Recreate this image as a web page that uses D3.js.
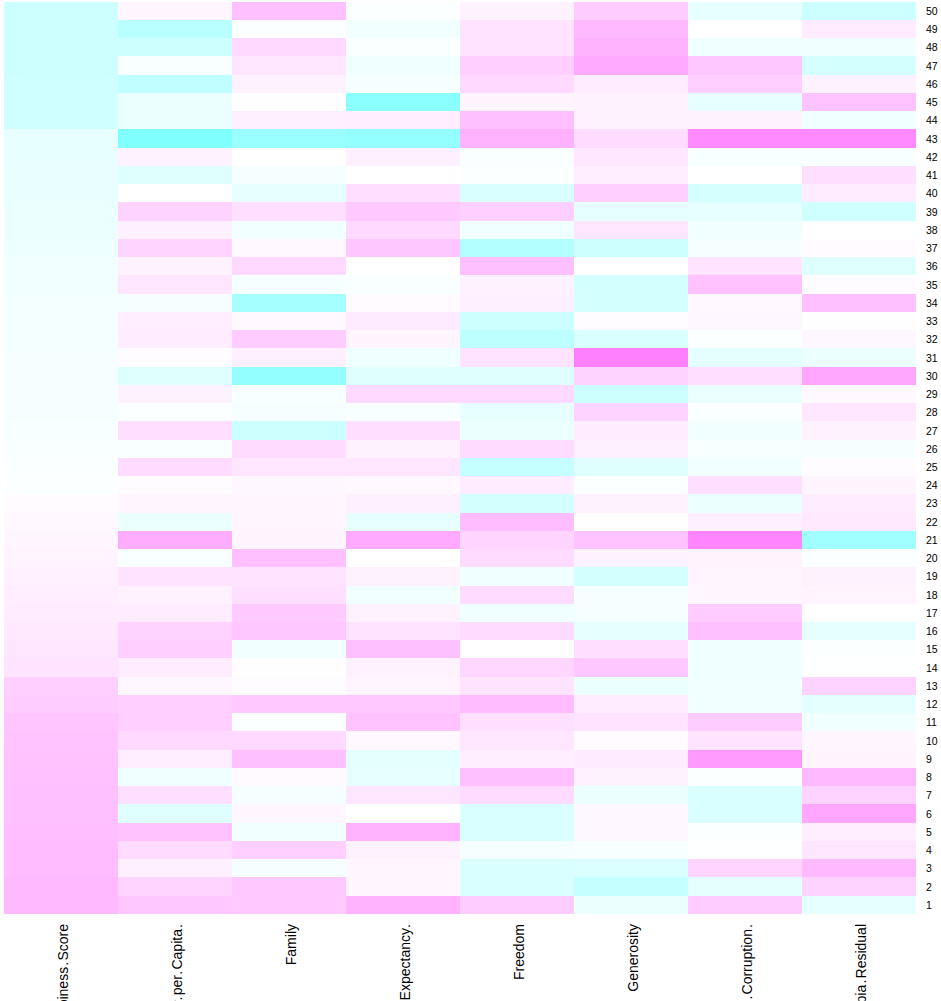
<!DOCTYPE html>
<html><head><meta charset="utf-8">
<style>html,body{margin:0;padding:0;background:#fff;overflow:hidden;width:941px;height:1001px}svg{display:block}text{font-family:"Liberation Sans",Arial,sans-serif;fill:#000}</style>
<script src="https://cdn.jsdelivr.net/npm/d3@7"></script>
</head><body><svg id="c" width="941" height="1001"></svg>
<script>
const columns=["Happiness.Score","Economy..GDP.per.Capita.","Family","Health..Life.Expectancy.","Freedom","Generosity","Trust..Government.Corruption.","Dystopia.Residual"];
const rowLabels=[50,49,48,47,46,45,44,43,42,41,40,39,38,37,36,35,34,33,32,31,30,29,28,27,26,25,24,23,22,21,20,19,18,17,16,15,14,13,12,11,10,9,8,7,6,5,4,3,2,1];
// values listed top row (50) to bottom row (1)
const happiness=[-.4,-.4,-.39,-.39,-.38,-.38,-.38,-.19,-.18,-.17,-.17,-.16,-.15,-.14,-.1,-.1,-.09,-.09,-.09,-.08,-.08,-.07,-.07,-.06,-.05,-.04,-.02,.03,.05,.07,.09,.11,.13,.15,.17,.2,.22,.38,.4,.46,.47,.48,.49,.5,.5,.51,.52,.53,.54,.55];
const economy=[.07,-.55,-.4,-.05,-.5,-.15,-.15,-1,.1,-.25,0,.35,.12,.33,.1,.2,-.08,.13,.15,.02,-.25,.1,-.02,.25,-.05,.28,.02,.07,-.15,.65,-.05,.22,.1,.15,.35,.38,.15,.06,.38,.38,.3,.13,-.12,.25,-.25,.48,.28,.12,.33,.45];
const family=[.5,-.02,.3,.2,.1,.01,.12,-.8,0,-.07,-.18,.25,-.1,.05,.3,-.07,-.7,.05,.4,.12,-.85,-.06,-.07,-.4,.28,.2,.06,.07,.07,.08,.5,.22,.25,.42,.45,-.1,.01,.02,.42,-.02,.3,.5,.04,-.08,.07,-.1,.37,-.08,.43,.42];
const health=[-.03,-.1,-.04,-.12,-.08,-.92,.13,-.85,.12,0,.25,.42,.3,.45,0,-.05,.03,.16,.08,-.12,-.25,.3,-.06,.25,.1,.2,.05,.12,-.18,.67,0,.1,-.1,.1,.22,.5,.1,.09,.43,.47,.05,-.22,-.18,.2,0,.6,.1,.07,.07,.6];
const freedom=[.1,.22,.22,.38,.3,.08,.5,.6,-.05,-.02,-.3,.38,-.12,-.6,.5,.1,.12,-.4,-.52,.22,-.25,.3,-.18,-.15,.28,-.45,.15,-.35,.52,.33,.28,-.12,.28,-.12,.28,0,.32,.22,.52,.25,.2,.13,.5,.28,-.3,-.3,-.08,-.3,-.3,.4];
const generosity=[.4,.55,.6,.67,.15,.1,.1,.28,.18,.13,.38,-.2,.2,-.4,0,-.35,-.35,.02,-.3,1,.35,-.4,.35,.15,.12,-.25,-.02,.1,.01,.47,.1,-.35,-.07,-.07,-.2,.25,.45,-.15,.15,.22,.03,.16,.1,-.15,.06,.06,-.06,-.28,-.45,-.15];
const corruption=[-.18,0,-.12,.45,.38,-.18,.1,.92,-.06,0,-.33,-.18,-.1,-.08,.22,.48,.05,.06,-.02,-.22,.25,-.15,-.04,-.1,-.06,-.1,.25,-.15,.12,.95,.08,.09,.07,.4,.5,-.12,-.12,-.1,-.1,.4,.22,.8,-.02,-.3,-.3,-.02,-.01,.33,-.22,.4];
const residual=[-.4,.14,-.12,-.35,.1,.47,-.12,.92,-.06,.25,.14,-.38,0,.03,-.25,.02,.5,.01,.06,-.15,.7,.05,.18,.1,-.07,.02,.08,.15,.17,-.75,-.03,.1,.09,0,-.2,-.03,-.01,.35,-.22,-.12,.07,.08,.55,.35,.7,.13,.2,.55,.35,-.2];
const series=[happiness,economy,family,health,freedom,generosity,corruption,residual];

const svg=d3.select("#c");
const x=d3.scaleBand().domain(columns).range([4,916]);
const y=d3.scaleBand().domain(rowLabels).range([1.7,913.9]);
const color=d3.scaleLinear().domain([-1,0,1]).range(["#80FFFF","#FFFFFF","#FF80FF"]);
const cells=series.flatMap((s,i)=>s.map((v,j)=>({col:columns[i],row:rowLabels[j],v})));
svg.append("g").attr("shape-rendering","crispEdges").selectAll("rect").data(cells).join("rect")
 .attr("x",d=>x(d.col)).attr("y",d=>y(d.row)).attr("width",x.bandwidth()).attr("height",y.bandwidth()+.5)
 .attr("fill",d=>color(d.v));
const yAxis=svg.append("g").attr("transform","translate(916,0.7)").call(d3.axisRight(y).tickSize(0).tickPadding(10));
yAxis.select(".domain").remove();
yAxis.selectAll("text").style("font-family",'"Liberation Sans",Arial,sans-serif').style("font-size","10.5px");
const xAxis=svg.append("g").attr("transform","translate(2,914)").call(d3.axisBottom(x).tickSize(0));
xAxis.select(".domain").remove();
xAxis.selectAll("text").attr("transform","rotate(-90)").attr("text-anchor","end").attr("dy","0.36em").attr("y",0).attr("x",-10)
 .style("font-family",'"Liberation Sans",Arial,sans-serif').style("font-size","14px")
 .each(function(label){
   // the reference's periods have a wider advance, so open a small gap on both sides of each
   const t=d3.select(this).text(null);
   label.split(/(\.)/).filter(p=>p!=="").forEach((p,i)=>{
     t.append("tspan").attr("dx",i?1.2:0).text(p);
   });
 });
</script></body></html>
